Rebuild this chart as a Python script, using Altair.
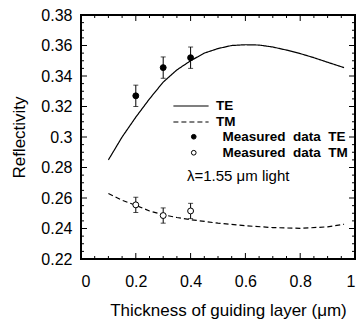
import altair as alt
import pandas as pd

# Theoretical curves
te_x = [0.10, 0.15, 0.20, 0.25, 0.30, 0.35, 0.40, 0.45, 0.50, 0.55, 0.60, 0.65, 0.70, 0.75, 0.80, 0.85, 0.90, 0.96]
te_y = [0.285, 0.300, 0.313, 0.325, 0.336, 0.344, 0.350, 0.355, 0.358, 0.360, 0.3605, 0.3603, 0.359, 0.357, 0.3547, 0.352, 0.349, 0.3455]
tm_x = [0.10, 0.15, 0.20, 0.25, 0.30, 0.35, 0.40, 0.50, 0.60, 0.70, 0.80, 0.90, 0.96]
tm_y = [0.263, 0.2585, 0.2552, 0.2515, 0.249, 0.2472, 0.2458, 0.2435, 0.2418, 0.2406, 0.2401, 0.2411, 0.2428]

# Measured data with error bars
meas_x = [0.2, 0.3, 0.4]
meas_te = [0.327, 0.3455, 0.352]
meas_te_err = [0.007, 0.007, 0.007]
meas_tm = [0.2555, 0.2485, 0.2515]
meas_tm_err = [0.005, 0.005, 0.005]

curve_names = ["TE", "TM"]
meas_names = ["Measured data TE", "Measured data TM"]

x_domain = [0, 1]
y_domain = [0.22, 0.38]
x_labels = [0, 0.2, 0.4, 0.6, 0.8, 1]
y_labels = [0.22, 0.24, 0.26, 0.28, 0.3, 0.32, 0.34, 0.36, 0.38]
x_minor = [round(i * 0.05, 2) for i in range(21)]
y_minor = [round(0.22 + i * 0.005, 3) for i in range(33)]

W, H = 274, 244
FONT = "Liberation Sans"

lines = pd.DataFrame({
    "x": te_x + tm_x,
    "y": te_y + tm_y,
    "curve": [curve_names[0]] * len(te_x) + [curve_names[1]] * len(tm_x),
})
meas = pd.DataFrame({
    "x": meas_x + meas_x,
    "y": meas_te + meas_tm,
    "lo": [v - e for v, e in zip(meas_te, meas_te_err)] + [v - e for v, e in zip(meas_tm, meas_tm_err)],
    "hi": [v + e for v, e in zip(meas_te, meas_te_err)] + [v + e for v, e in zip(meas_tm, meas_tm_err)],
    "series": [meas_names[0]] * 3 + [meas_names[1]] * 3,
})

xs = alt.Scale(domain=x_domain, nice=False, zero=False)
ys = alt.Scale(domain=y_domain, nice=False, zero=False)

lab_x = alt.Axis(orient="bottom", values=x_labels, format="~g", ticks=False, domain=False, grid=False,
                 labelOverlap=False, labelPadding=14, labelFont=FONT, labelFontSize=16,
                 labelColor="black", title="Thickness of guiding layer (μm)", titleFont=FONT,
                 titleFontSize=17, titleFontWeight="normal", titleColor="black", titleX=147,
                 titleY=56, titleBaseline="alphabetic")
lab_y = alt.Axis(orient="left", values=y_labels, format="~g", ticks=False, domain=False, grid=False,
                 labelOverlap=False, labelPadding=9, labelFont=FONT, labelFontSize=16,
                 labelColor="black", title="Reflectivity", titleFont=FONT, titleFontSize=17,
                 titleFontWeight="normal", titleColor="black", titleX=-57, titleY=122,
                 titleBaseline="alphabetic")


def X(field="x"):
    return alt.X(field + ":Q", scale=xs, axis=lab_x)


def Y(field="y"):
    return alt.Y(field + ":Q", scale=ys, axis=lab_y)


line_legend = alt.Legend(title=None, orient="none", legendX=101, legendY=82, padding=0,
                         symbolType="M-2.2,0H2.2", symbolSize=256, symbolStrokeWidth=1.2,
                         symbolStrokeColor="black", labelOffset=16, labelFont=FONT,
                         labelFontSize=13.5, labelFontWeight="bold", labelColor="black", rowPadding=0)
pt_legend = alt.Legend(title="\u00a0λ=1.55 μm light", titleOrient="bottom", titleFont=FONT,
                       titleFontSize=15, titleFontWeight="normal", titleColor="black", titlePadding=10,
                       orient="none", legendX=106, legendY=115, padding=0,
                       symbolType="circle", symbolSize=22, symbolStrokeColor="black",
                       symbolStrokeWidth=1, symbolOpacity=1, labelOffset=22, labelFont=FONT,
                       labelFontSize=13.5, labelFontWeight="bold", labelColor="black", rowPadding=1,
                       labelExpr="join(split(datum.label, ' '), '\u00a0\u00a0')")

line_layer = alt.Chart(lines).mark_line(color="black", strokeWidth=1.2).encode(
    x=X(), y=Y(),
    strokeDash=alt.StrokeDash("curve:N", scale=alt.Scale(domain=curve_names, range=[[1, 0], [5, 3]]),
                              legend=line_legend),
)
rule_layer = alt.Chart(meas).mark_rule(color="black", strokeWidth=1).encode(
    x=X(), y=Y("lo"), y2="hi:Q",
)
cap_hi = alt.Chart(meas).mark_tick(color="black", orient="horizontal", size=5, thickness=1).encode(
    x=X(), y=Y("hi"),
)
cap_lo = alt.Chart(meas).mark_tick(color="black", orient="horizontal", size=5, thickness=1).encode(
    x=X(), y=Y("lo"),
)
pt_layer = alt.Chart(meas).mark_point(shape="circle", filled=True, size=35, stroke="black",
                                      strokeWidth=1, opacity=1).encode(
    x=X(), y=Y(),
    fill=alt.Fill("series:N", scale=alt.Scale(domain=meas_names, range=["black", "white"]),
                  legend=pt_legend),
)

# Frame of the plot box, drawn along the scale domain
frame_v = alt.Chart(pd.DataFrame({"x": x_domain, "y": [y_domain[0]] * 2, "y2": [y_domain[1]] * 2})).mark_rule(
    color="black", strokeWidth=2).encode(x=X(), y=Y(), y2="y2:Q")
frame_h = alt.Chart(pd.DataFrame({"y": y_domain, "x": [x_domain[0]] * 2, "x2": [x_domain[1]] * 2})).mark_rule(
    color="black", strokeWidth=2).encode(x=X(), x2="x2:Q", y=Y())

# Inward axis ticks on the four sides (major 6 px, minor 3 px), converted to data units
kx = (x_domain[1] - x_domain[0]) / W
ky = (y_domain[1] - y_domain[0]) / H


def tick_len(v, majors):
    return 6 if any(abs(v - m) < 1e-9 for m in majors) else 3


def x_tick_layer(at, sign):
    df = pd.DataFrame({
        "x": x_minor,
        "y": [at] * len(x_minor),
        "y2": [at + sign * tick_len(v, x_labels) * ky for v in x_minor],
    })
    return alt.Chart(df).mark_rule(color="black", strokeWidth=1).encode(x=X(), y=Y(), y2="y2:Q")


def y_tick_layer(at, sign):
    df = pd.DataFrame({
        "y": y_minor,
        "x": [at] * len(y_minor),
        "x2": [at + sign * tick_len(v, y_labels) * kx for v in y_minor],
    })
    return alt.Chart(df).mark_rule(color="black", strokeWidth=1).encode(x=X(), x2="x2:Q", y=Y())


tick_layers = [
    x_tick_layer(y_domain[0], 1), x_tick_layer(y_domain[1], -1),
    y_tick_layer(x_domain[0], 1), y_tick_layer(x_domain[1], -1),
]

chart = alt.layer(line_layer, rule_layer, cap_hi, cap_lo, pt_layer, frame_v, frame_h, *tick_layers).properties(
    width=W, height=H,
    autosize=alt.AutoSizeParams(type="none"),
    padding={"left": 81, "top": 15, "right": 5, "bottom": 63},
).configure_view(stroke="black", strokeWidth=2)

chart.save("out.html", embed_options={"renderer": "svg", "actions": False})
